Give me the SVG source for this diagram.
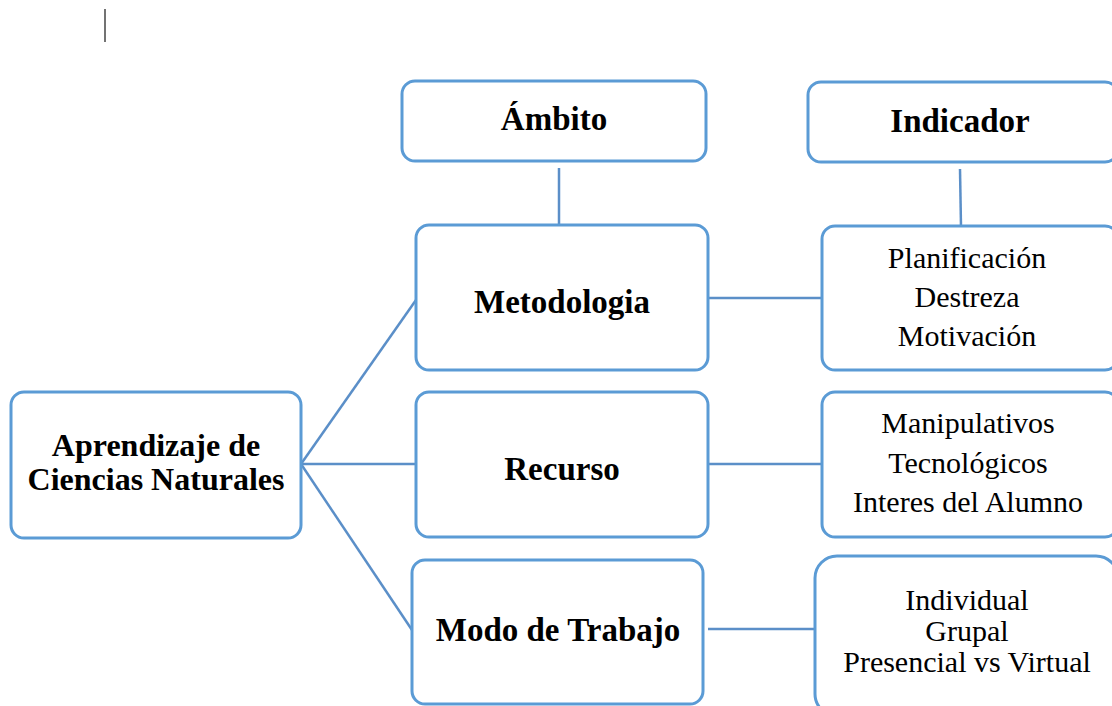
<svg xmlns="http://www.w3.org/2000/svg" width="1112" height="706" viewBox="0 0 1112 706">
<style>
.box{fill:#ffffff;stroke:#5B9BD5;stroke-width:3}
.con{stroke:#5B8FC8;stroke-width:2.5;fill:none}
.b{font-family:"Liberation Serif",serif;font-weight:bold;font-size:33px;fill:#000;text-anchor:middle}
.r{font-family:"Liberation Serif",serif;font-size:30px;fill:#000;text-anchor:middle}
</style>
<rect width="1112" height="706" fill="#ffffff"/>
<line x1="105" y1="9" x2="105" y2="42" stroke="#444" stroke-width="1.5"/>
<g id="connectors">
<line class="con" x1="559" y1="168" x2="559" y2="226"/>
<line class="con" x1="960" y1="169" x2="961" y2="227"/>
<line class="con" x1="708" y1="298" x2="822" y2="298"/>
<line class="con" x1="708" y1="464" x2="822" y2="464"/>
<line class="con" x1="708" y1="629" x2="815" y2="629"/>
<line class="con" x1="301" y1="464" x2="416" y2="300"/>
<line class="con" x1="301" y1="464" x2="416" y2="464"/>
<line class="con" x1="301" y1="464" x2="412" y2="630"/>
</g>
<g id="ambito">
<rect class="box" x="402" y="81" width="304" height="80" rx="13"/>
<text class="b" x="554" y="130">Ámbito</text>
</g>
<g id="indicador">
<rect class="box" x="808" y="82" width="310" height="80" rx="13"/>
<text class="b" x="960" y="132">Indicador</text>
</g>
<g id="metodologia">
<rect class="box" x="416" y="225" width="292" height="145" rx="13"/>
<text class="b" x="562" y="313">Metodologia</text>
</g>
<g id="ind-metodologia">
<rect class="box" x="822" y="226" width="296" height="144" rx="13"/>
<text class="r" x="967" y="268">Planificación</text>
<text class="r" x="967" y="307">Destreza</text>
<text class="r" x="967" y="346">Motivación</text>
</g>
<g id="aprendizaje">
<rect class="box" x="11" y="392" width="290" height="146" rx="13"/>
<text class="b" x="156" y="456" style="font-size:32px">Aprendizaje de</text>
<text class="b" x="156" y="490" style="font-size:32px">Ciencias Naturales</text>
</g>
<g id="recurso">
<rect class="box" x="416" y="392" width="292" height="145" rx="13"/>
<text class="b" x="562" y="480">Recurso</text>
</g>
<g id="ind-recurso">
<rect class="box" x="822" y="392" width="296" height="145" rx="13"/>
<text class="r" x="968" y="433">Manipulativos</text>
<text class="r" x="968" y="473">Tecnológicos</text>
<text class="r" x="968" y="512">Interes del Alumno</text>
</g>
<g id="modo">
<rect class="box" x="412" y="560" width="291" height="144" rx="13"/>
<text class="b" x="558" y="641">Modo de Trabajo</text>
</g>
<g id="ind-modo">
<rect class="box" x="815" y="556" width="303" height="160" rx="22"/>
<text class="r" x="967" y="610">Individual</text>
<text class="r" x="967" y="641">Grupal</text>
<text class="r" x="967" y="672">Presencial vs Virtual</text>
</g>
</svg>
